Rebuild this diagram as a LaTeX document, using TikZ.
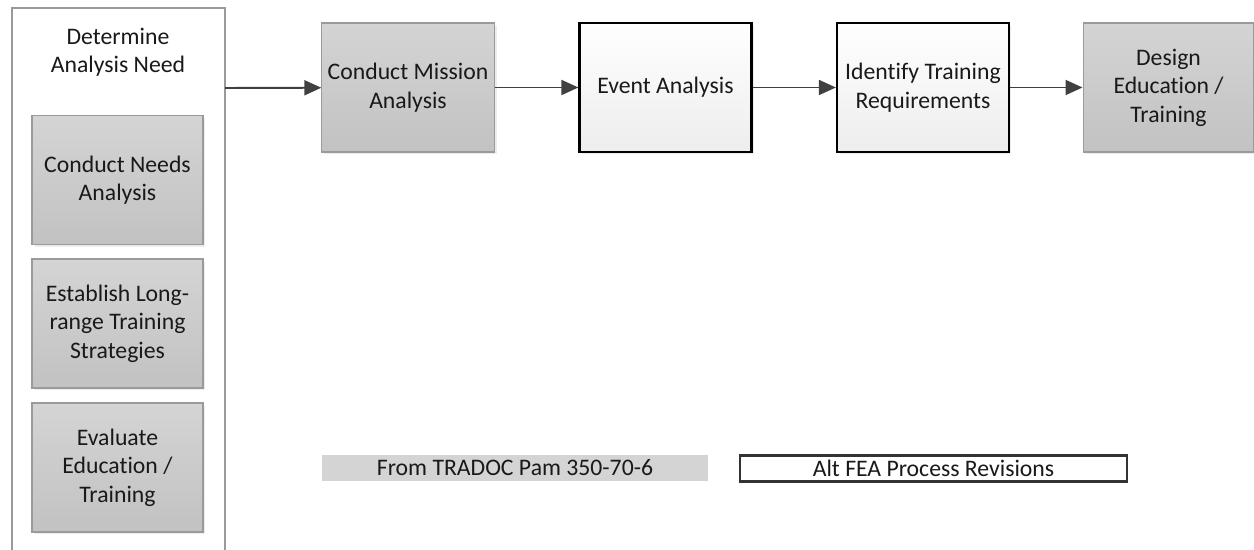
\documentclass[tikz,border=0pt]{standalone}
\usepackage{fontspec}
\setmainfont[Ligatures=NoCommon]{Carlito}
\usetikzlibrary{arrows.meta,shadows}
\definecolor{boxgray}{HTML}{D4D4D4}
\definecolor{boxgraydark}{HTML}{C2C2C2}
\definecolor{edgegray}{HTML}{9A9A9A}
\definecolor{arrowgray}{HTML}{404040}
\tikzset{
  gbox/.style={draw=edgegray, line width=0.6pt, top color=boxgray, bottom color=boxgraydark,
    minimum width=3.42cm, minimum height=2.58cm, align=center,
    drop shadow={shadow xshift=0.05cm, shadow yshift=-0.05cm, opacity=0.15}},
  wbox/.style={draw=black, line width=1.3pt, top color=white, bottom color=black!7,
    minimum width=3.44cm, minimum height=2.58cm, align=center,
    drop shadow={shadow xshift=0.05cm, shadow yshift=-0.05cm, opacity=0.15}},
  arr/.style={draw=arrowgray, line width=1.1pt, -{Triangle[length=0.34cm,width=0.3cm]}}
}
\begin{document}
\begin{tikzpicture}[x=0.02cm, y=-0.02cm, every node/.style={font=\fontsize{13.5}{16.2}\selectfont, text=black!90}]
            \useasboundingbox (0,0) rectangle (1254,550);
            \def \w {171}
            % left column
            \draw[edgegray, line width=0.6pt] (12,560) -- (12,8) -- (225,8) -- (225,560);
            \node[align=center] (need) at (118,52) {Determine\\Analysis Need};
            \node[gbox] (cna) at (117.5,180) {Conduct Needs\\Analysis};
            \node[gbox] (elr) at (117.5,323.5) {Establish Long-\\range Training\\Strategies};
            \node[gbox] (eet) at (117.5,467.5) {Evaluate\\Education /\\Training};
            \coordinate (out) at (225,88);
            % top row
            \node[gbox] (cma) at (408,87.5) {Conduct Mission\\Analysis};
            \node[wbox] (ea) at (665.5,87.5) {Event Analysis};
            \node[wbox] (itr) at (923,87.5) {Identify Training\\Requirements};
            \node[gbox] (det) at (1083+\w/2,87.5) {Design\\Education /\\Training};
            \draw[arr] (out) -- (cma);
            \draw[arr] (cma) -- (ea);
            \draw[arr] (ea) -- (itr);
            \draw[arr] (itr) -- (det);
            % legend
            \node[fill=boxgray, minimum width=7.72cm, minimum height=0.52cm, inner sep=0pt] (leg1) at (515,468) {From TRADOC Pam 350-70-6};
            \node[draw=black!80, line width=1.3pt, fill=white, minimum width=7.74cm, minimum height=0.52cm, inner sep=0pt] (leg2) at (933.5,468.5) {Alt FEA Process Revisions};
        \end{tikzpicture}
\end{document}
